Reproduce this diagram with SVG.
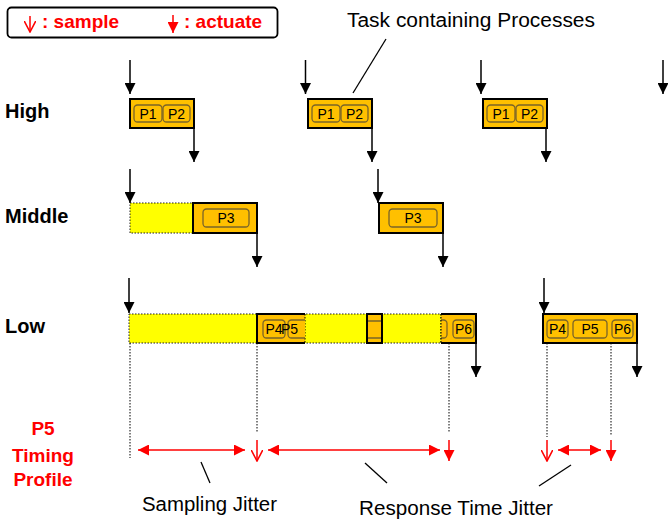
<svg xmlns="http://www.w3.org/2000/svg" width="668" height="521" viewBox="0 0 668 521">
<defs>
<style>
.bg{fill:#fff}
.task{fill:#FFC000;stroke:#000;stroke-width:2}
.taskn{fill:#FFC000;stroke:none}
.wait{fill:#FFFF00;stroke:#222;stroke-width:1;stroke-dasharray:1.5 1.5}
.pill{fill:#FFC000;stroke:#7A6428;stroke-width:1.3}
.pt{font-family:"Liberation Sans",Arial,sans-serif;font-size:14px;fill:#000;text-anchor:middle}
.lbl{font-family:"Liberation Sans",Arial,sans-serif;font-weight:bold;font-size:20px;fill:#000}
.red{font-family:"Liberation Sans",Arial,sans-serif;font-weight:bold;font-size:19px;fill:#FF0000}
.note{font-family:"Liberation Sans",Arial,sans-serif;font-size:20px;fill:#000}
.arr{stroke:#000;stroke-width:1.5;fill:none;marker-end:url(#ah)}
.dot{stroke:#000;stroke-width:1;stroke-dasharray:1.5 1.5;fill:none}
.rarr{stroke:#FF0000;stroke-width:1.5;fill:none}
.lead{stroke:#000;stroke-width:1.3;fill:none}
</style>
<marker id="ah" viewBox="0 0 10 10" refX="10" refY="5" markerWidth="11" markerHeight="11" markerUnits="userSpaceOnUse" orient="auto-start-reverse"><path d="M0,0 L10,5 L0,10 z" fill="#000"/></marker>
<marker id="rh" viewBox="0 0 10 10" refX="10" refY="5" markerWidth="11" markerHeight="11" markerUnits="userSpaceOnUse" orient="auto-start-reverse"><path d="M0,0 L10,5 L0,10 z" fill="#FF0000"/></marker>
<marker id="ro" viewBox="0 0 10 10" refX="9.5" refY="5" markerWidth="12" markerHeight="12" markerUnits="userSpaceOnUse" orient="auto"><path d="M0,0 L9.5,5 L0,10" fill="none" stroke="#FF0000" stroke-width="1.3"/></marker>
<clipPath id="c1"><rect x="257" y="314" width="48" height="29"/></clipPath>
<clipPath id="c2"><rect x="367" y="314" width="15" height="29"/></clipPath>
<clipPath id="c3"><rect x="441" y="314" width="35" height="29"/></clipPath>
</defs>
<rect class="bg" x="0" y="0" width="668" height="521"/>

<g id="legend">
<rect x="7.5" y="7.5" width="270" height="30" rx="4" fill="#fff" stroke="#000" stroke-width="1.8"/>
<line x1="30" y1="16" x2="30" y2="32" class="rarr" marker-end="url(#ro)"/>
<text x="42" y="28" class="red" font-size="20">: sample</text>
<line x1="173" y1="15" x2="173" y2="33" class="rarr" marker-end="url(#rh)"/>
<text x="184" y="28" class="red" font-size="20">: actuate</text>
</g>

<g id="labels">
<text x="5" y="118" class="lbl">High</text>
<text x="5" y="223" class="lbl">Middle</text>
<text x="5" y="333" class="lbl">Low</text>
<text x="43" y="435" class="red" text-anchor="middle">P5</text>
<text x="43" y="462" class="red" text-anchor="middle">Timing</text>
<text x="43" y="486" class="red" text-anchor="middle">Profile</text>
</g>

<g id="high1">
<rect x="130" y="99" width="64" height="29" class="task"/>
<rect x="134" y="105" width="28" height="17" rx="3.5" class="pill"/><text x="148" y="119" class="pt">P1</text>
<rect x="163" y="105" width="27" height="17" rx="3.5" class="pill"/><text x="176.5" y="119" class="pt">P2</text>
</g>
<g id="high2">
<rect x="308" y="99" width="64" height="29" class="task"/>
<rect x="312" y="105" width="28" height="17" rx="3.5" class="pill"/><text x="326" y="119" class="pt">P1</text>
<rect x="341" y="105" width="27" height="17" rx="3.5" class="pill"/><text x="354.5" y="119" class="pt">P2</text>
</g>
<g id="high3">
<rect x="483" y="99" width="64" height="29" class="task"/>
<rect x="487" y="105" width="28" height="17" rx="3.5" class="pill"/><text x="501" y="119" class="pt">P1</text>
<rect x="516" y="105" width="27" height="17" rx="3.5" class="pill"/><text x="529.5" y="119" class="pt">P2</text>
</g>

<g id="middle1">
<rect x="130" y="203" width="63" height="30" class="wait"/>
<rect x="193" y="203" width="64" height="30" class="task"/>
<rect x="203" y="209" width="46" height="18" rx="3.5" class="pill"/><text x="226" y="223" class="pt">P3</text>
</g>
<g id="middle2">
<rect x="379" y="203" width="64" height="30" class="task"/>
<rect x="389" y="209" width="48" height="18" rx="3.5" class="pill"/><text x="413" y="223" class="pt">P3</text>
</g>

<g id="low1">
<rect x="129" y="314" width="312" height="29" class="wait"/>
<rect x="257" y="314" width="48" height="29" class="taskn"/>
<path d="M305,314 H257 V343 H305" fill="none" stroke="#000" stroke-width="2"/>
<line x1="305" y1="314" x2="305" y2="343" class="dot"/>
<g clip-path="url(#c1)">
<rect x="263" y="320" width="22" height="18" rx="3.5" class="pill"/><text x="274" y="334" class="pt">P4</text>
<rect x="288" y="320" width="28" height="18" rx="3.5" class="pill"/><text x="289.5" y="334" class="pt" text-anchor="start">P5</text>
</g>
<rect x="367" y="314" width="15" height="29" class="taskn"/>
<g clip-path="url(#c2)"><rect x="355" y="321" width="40" height="17" rx="3.5" class="pill"/></g>
<rect x="367" y="314" width="15" height="29" fill="none" stroke="#000" stroke-width="2"/>
<rect x="441" y="314" width="35" height="29" class="taskn"/>
<g clip-path="url(#c3)">
<rect x="420" y="320" width="27" height="18" rx="3.5" class="pill"/>
<rect x="453" y="320" width="21" height="18" rx="3.5" class="pill"/><text x="463.5" y="334" class="pt">P6</text>
</g>
<path d="M441,314 H476 V343 H441" fill="none" stroke="#000" stroke-width="2"/>
<line x1="441" y1="314" x2="441" y2="343" class="dot"/>
</g>
<g id="low2">
<rect x="543" y="314" width="94" height="29" class="task"/>
<rect x="547" y="320" width="21" height="18" rx="3.5" class="pill"/><text x="557.5" y="334" class="pt">P4</text>
<rect x="573" y="320" width="34" height="18" rx="3.5" class="pill"/><text x="590" y="334" class="pt">P5</text>
<rect x="612" y="320" width="21" height="18" rx="3.5" class="pill"/><text x="622.5" y="334" class="pt">P6</text>
</g>

<g id="connectors">
<line x1="130" y1="60" x2="130" y2="94" class="arr"/>
<line x1="194" y1="128" x2="194" y2="162" class="arr"/>
<line x1="305.5" y1="60" x2="305.5" y2="94" class="arr"/>
<line x1="372" y1="128" x2="372" y2="162" class="arr"/>
<line x1="481" y1="60" x2="481" y2="94" class="arr"/>
<line x1="546" y1="128" x2="546" y2="162" class="arr"/>
<line x1="663" y1="60" x2="663" y2="94" class="arr"/>
<line x1="130" y1="169" x2="130" y2="203" class="arr"/>
<line x1="257" y1="233" x2="257" y2="267" class="arr"/>
<line x1="378" y1="169" x2="378" y2="203" class="arr"/>
<line x1="443" y1="233" x2="443" y2="267" class="arr"/>
<line x1="129" y1="278" x2="129" y2="313" class="arr"/>
<line x1="476" y1="343" x2="476" y2="377" class="arr"/>
<line x1="544" y1="278" x2="544" y2="313" class="arr"/>
<line x1="637" y1="343" x2="637" y2="377" class="arr"/>

<line x1="130" y1="343" x2="130" y2="458" class="dot"/>
<line x1="257" y1="343" x2="257" y2="433" class="dot"/>
<line x1="449" y1="343" x2="449" y2="433" class="dot"/>
<line x1="547" y1="343" x2="547" y2="437" class="dot"/>
<line x1="611" y1="343" x2="611" y2="435" class="dot"/>

<line x1="138" y1="450" x2="245" y2="450" class="rarr" marker-start="url(#rh)" marker-end="url(#rh)"/>
<line x1="268" y1="450" x2="440" y2="450" class="rarr" marker-start="url(#rh)" marker-end="url(#rh)"/>
<line x1="558" y1="450" x2="601" y2="450" class="rarr" marker-start="url(#rh)" marker-end="url(#rh)"/>
<line x1="257" y1="440" x2="257" y2="461" class="rarr" marker-end="url(#ro)"/>
<line x1="547" y1="440" x2="547" y2="461" class="rarr" marker-end="url(#ro)"/>
<line x1="449" y1="440" x2="449" y2="461" class="rarr" marker-end="url(#rh)"/>
<line x1="611" y1="440" x2="611" y2="461" class="rarr" marker-end="url(#rh)"/>

<line x1="353" y1="93" x2="386" y2="39" class="lead"/>
<line x1="201" y1="462" x2="210" y2="483" class="lead"/>
<line x1="365" y1="463" x2="387" y2="483" class="lead"/>
<line x1="539" y1="486" x2="571" y2="465" class="lead"/>
</g>

<g id="notes">
<text x="347" y="27" class="note" textLength="248" lengthAdjust="spacingAndGlyphs">Task containing Processes</text>
<text x="142" y="511" class="note" textLength="135" lengthAdjust="spacingAndGlyphs">Sampling Jitter</text>
<text x="359" y="515" class="note" textLength="194" lengthAdjust="spacingAndGlyphs">Response Time Jitter</text>
</g>
</svg>
